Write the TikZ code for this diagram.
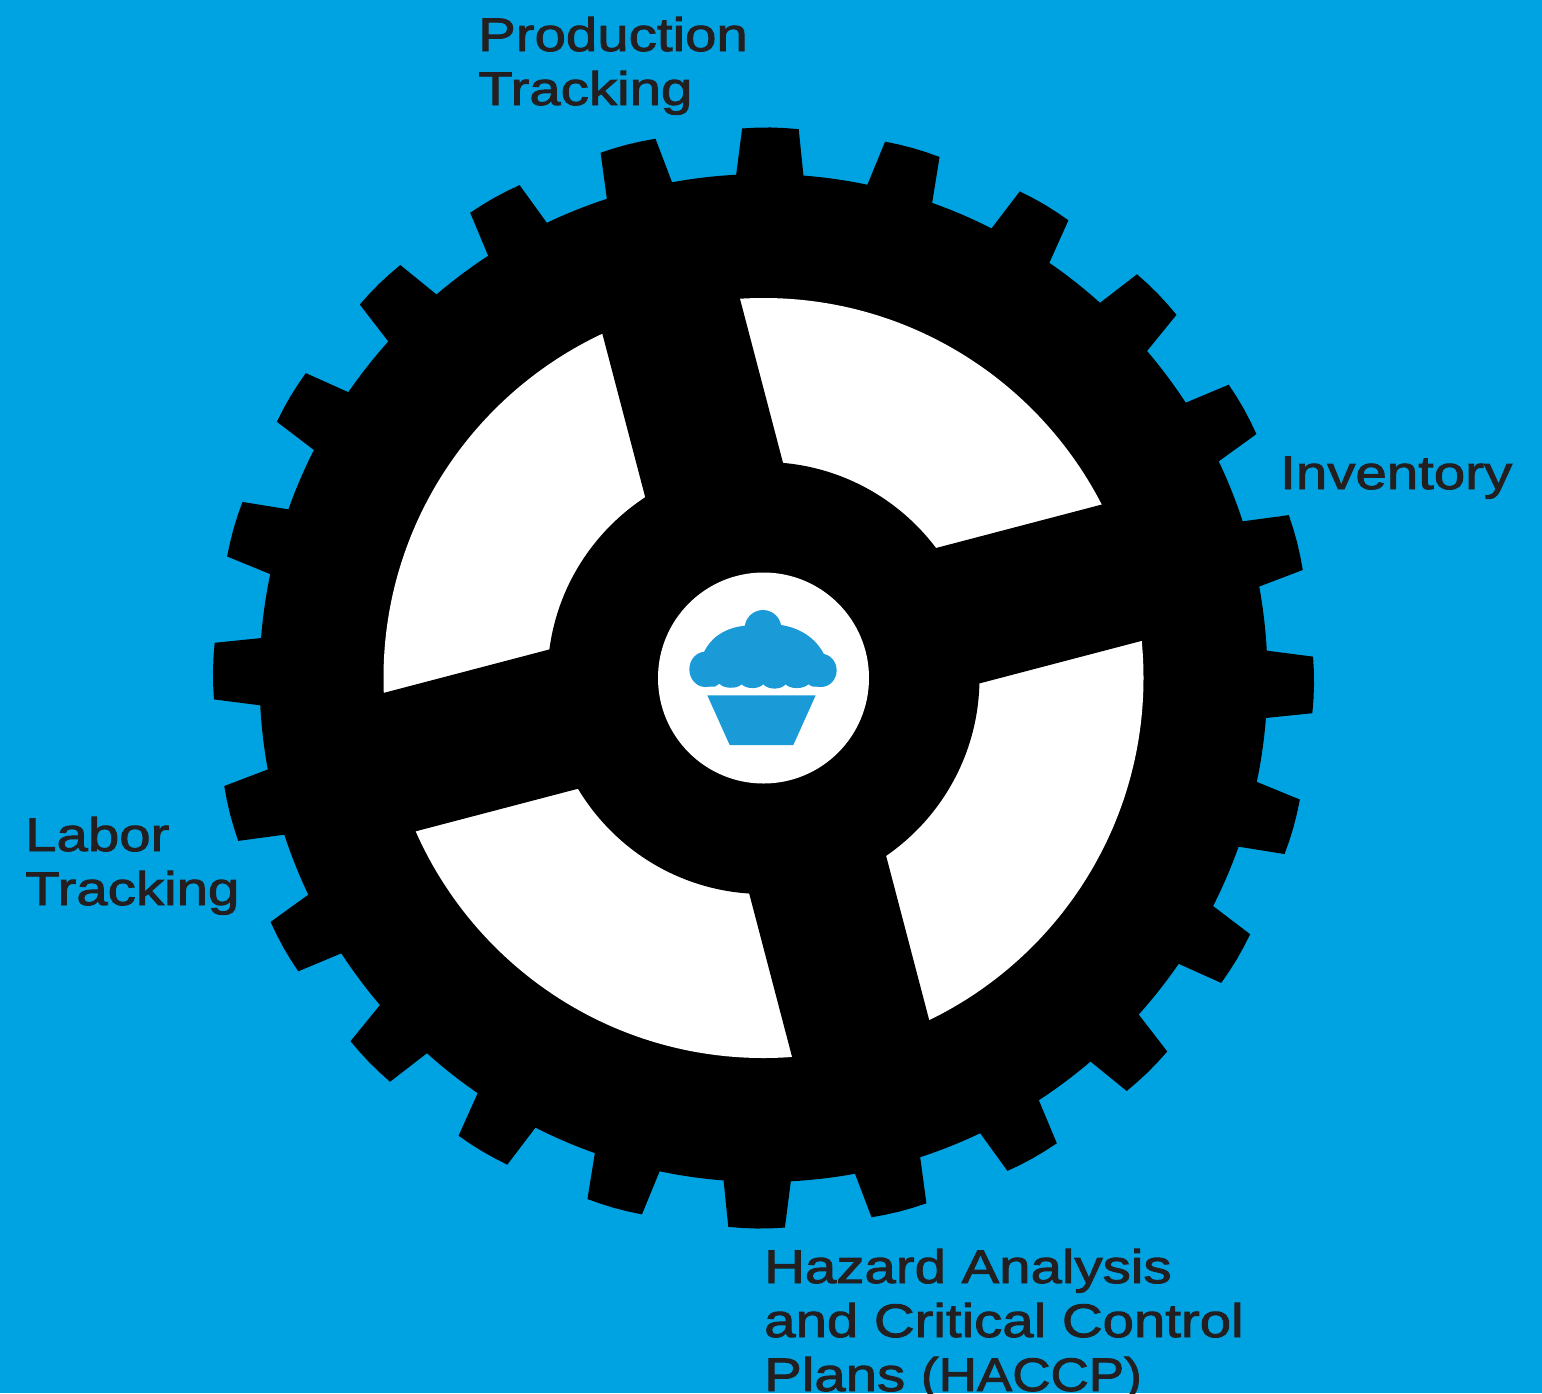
\documentclass[tikz,border=0pt]{standalone}
\usepackage{fontspec}
\setmainfont[FakeStretch=1.2,FakeBold=2]{Liberation Sans}
\definecolor{bgblue}{HTML}{00A3E2}
\definecolor{cakeblue}{HTML}{1A9AD7}
\definecolor{inkdark}{HTML}{231F20}
\tikzset{
  gearlabel/.style={anchor=base west,inner sep=0pt,align=left,text=inkdark,font=\fontsize{47}{54}\selectfont},
  gearbody/.style={fill=black},
  cutout/.style={fill=white},
  cake/.style={fill=cakeblue}
}
\begin{document}
\begin{tikzpicture}[x=1pt,y=-1pt]
\fill[bgblue] (0,0) rectangle (1542,1393);
\useasboundingbox (0,0) rectangle (1542,1393);
\begin{scope}[shift={(763.5,678)}]
  \fill[gearbody] (0,0) circle[radius=504];
  \foreach \i in {0,...,23}{
    \pgfmathsetmacro{\a}{-89.28+15*\i}
    \fill[gearbody] (\a-3.85:503) -- (\a-2.95:550) -- (\a-1.5:550.4) -- (\a:550.6) -- (\a+1.5:550.4) -- (\a+2.95:550) -- (\a+3.85:503) -- cycle;
  }
  \fill[cutout] (0,0) circle[radius=380];
  \fill[gearbody,shift={(2.4,-0.6)},rotate=14.7] (-71,-385) rectangle (71,385);
  \fill[gearbody,shift={(-2.8,-10.6)},rotate=-75.3] (-71,-385) rectangle (71,385);
  \fill[gearbody] (0,0) circle[radius=216];
  \fill[cutout] (0,0) circle[radius=105.5];
\end{scope}
\begin{scope}[shift={(640,560)},scale=0.33333]
  \fill[cake] (369,205) circle[radius=55];
  \fill[cake] (196,328) ellipse[x radius=48,y radius=53];
  \fill[cake] (543,331) ellipse[x radius=47,y radius=50];
  \fill[cake] (190,280) .. controls (215,225) and (265,202) .. (315,197) -- (423,195)
    .. controls (475,203) and (525,230) .. (552,283) -- (545,380) -- (518,380) -- (505,373)
    .. controls (490,388) and (450,388) .. (437,373)
    .. controls (422,390) and (385,390) .. (370,373)
    .. controls (355,388) and (320,388) .. (305,373)
    .. controls (290,388) and (250,386) .. (238,371)
    -- (225,380) -- (196,380) -- cycle;
  \fill[cake] (202,406) -- (527,406) -- (460,555) -- (269,555) -- cycle;
\end{scope}
\node[gearlabel] (prod) at (478,105) {Production\\Tracking};
\node[gearlabel] (inv) at (1280,489) {Inventory};
\node[gearlabel] (labor) at (25,905) {Labor\\Tracking};
\node[gearlabel] (haccp) at (764,1391) {Hazard Analysis\\and Critical Control\\Plans \scalebox{0.94}[1]{(HACCP)}};
\end{tikzpicture}
\end{document}
